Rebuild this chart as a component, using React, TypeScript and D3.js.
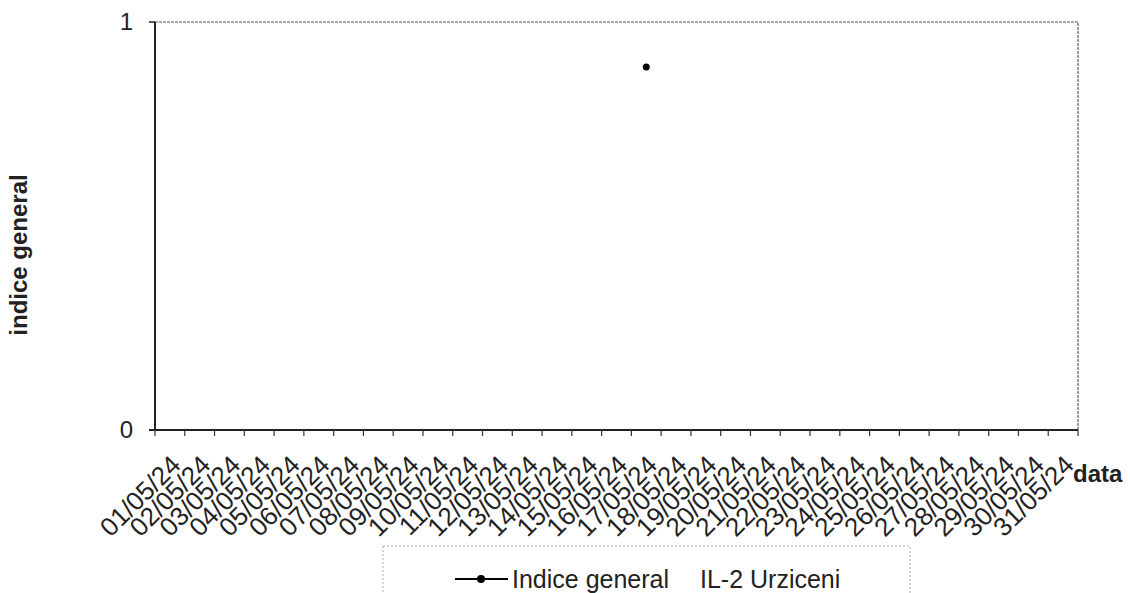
import React from "react";
import * as d3 from "d3";

const dates: string[] = [
  "01/05/24","02/05/24","03/05/24","04/05/24","05/05/24","06/05/24","07/05/24","08/05/24",
  "09/05/24","10/05/24","11/05/24","12/05/24","13/05/24","14/05/24","15/05/24","16/05/24",
  "17/05/24","18/05/24","19/05/24","20/05/24","21/05/24","22/05/24","23/05/24","24/05/24",
  "25/05/24","26/05/24","27/05/24","28/05/24","29/05/24","30/05/24","31/05/24",
];
// Indice general values (only one reading visible)
const indiceGeneral: (number | null)[] = dates.map((d) => (d === "17/05/24" ? 0.89 : null));
const yTicks: number[] = [0, 1];

const W = 1130;
const H = 593;
const M = { left: 155, right: 1078, top: 22, bottom: 430 };
const FONT = "'Liberation Sans', Arial, Helvetica, sans-serif";

export default function App() {
  const x = d3.scaleBand<string>().domain(dates).range([M.left, M.right]).padding(0);
  const y = d3.scaleLinear().domain([0, 1]).range([M.bottom, M.top]);
  const boundaries = d3.range(dates.length + 1).map((i) => M.left + i * x.step());
  const pts = dates
    .map((d, i) => ({ d, v: indiceGeneral[i] }))
    .filter((p) => p.v !== null) as { d: string; v: number }[];
  const line = d3
    .line<{ d: string; v: number }>()
    .x((p) => (x(p.d) as number) + x.bandwidth() / 2)
    .y((p) => y(p.v));

  return (
    <svg
      width={W}
      height={H}
      style={{ position: "absolute", left: 0, top: 0, background: "#fff" }}
      fontFamily={FONT}
    >
      <rect x={0} y={0} width={W} height={H} fill="#fff" />
      {/* plot frame */}
      <rect
        x={M.left}
        y={M.top}
        width={M.right - M.left}
        height={M.bottom - M.top}
        fill="none"
        stroke="#555"
        strokeWidth={1.2}
        strokeDasharray="3 1"
      />
      {/* axes */}
      <line x1={M.left} x2={M.left} y1={M.top} y2={M.bottom} stroke="#222" strokeWidth={2} />
      <line x1={M.left - 6} x2={M.right} y1={M.bottom} y2={M.bottom} stroke="#222" strokeWidth={2} />
      <line x1={M.left - 6} x2={M.left} y1={M.top} y2={M.top} stroke="#222" strokeWidth={1.5} />
      {boundaries.map((bx, i) => (
        <line key={i} x1={bx} x2={bx} y1={M.bottom} y2={M.bottom + 6} stroke="#333" strokeWidth={1.2} />
      ))}
      {/* y tick labels */}
      {yTicks.map((t) => (
        <text key={t} x={133} y={y(t)} dy="0.35em" textAnchor="end" fontSize={24} fill="#222">
          {t}
        </text>
      ))}
      {/* x tick labels */}
      {dates.map((d) => {
        const cx = (x(d) as number) + x.bandwidth() / 2;
        return (
          <text
            key={d}
            transform={`translate(${cx + 6},${M.bottom + 30}) rotate(-45)`}
            dy="0.35em"
            textAnchor="end"
            fontSize={26}
            fill="#222"
          >
            {d}
          </text>
        );
      })}
      {/* axis titles */}
      <text
        transform={`translate(27,255) rotate(-90)`}
        textAnchor="middle"
        fontSize={24}
        fontWeight="bold"
        fill="#222"
      >
        indice general
      </text>
      <text x={1073} y={482} fontSize={24} fontWeight="bold" fill="#222">
        data
      </text>
      {/* series */}
      <path d={line(pts) || ""} fill="none" stroke="#000" strokeWidth={2} />
      {pts.map((p) => (
        <circle
          key={p.d}
          cx={(x(p.d) as number) + x.bandwidth() / 2}
          cy={y(p.v)}
          r={3.5}
          fill="#000"
        />
      ))}
      {/* legend */}
      <rect
        x={383}
        y={546}
        width={527}
        height={80}
        fill="none"
        stroke="#aaa"
        strokeWidth={1}
        strokeDasharray="2 2"
      />
      <line x1={455} x2={508} y1={579} y2={579} stroke="#000" strokeWidth={2} />
      <circle cx={481} cy={579} r={4} fill="#000" />
      <text x={512} y={588} fontSize={25} fill="#222">
        Indice general
      </text>
      <text x={700} y={588} fontSize={25} fill="#222">
        IL-2 Urziceni
      </text>
    </svg>
  );
}
